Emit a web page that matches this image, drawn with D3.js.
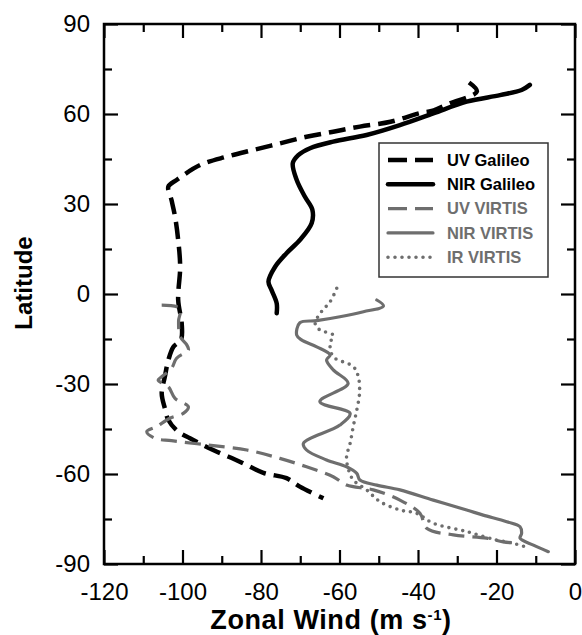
<!DOCTYPE html>
<html>
<head>
<meta charset="utf-8">
<script src="https://cdn.jsdelivr.net/npm/d3@7"></script>
<style>
  body { margin: 0; background: #fff; }
  text { font-family: "Liberation Sans", Arial, sans-serif; }
</style>
</head>
<body>
<div id="chart"></div>
<script>
// Series: latitude (deg) and zonal wind (m/s)
const uvGalileoLat = [70.5, 67.5, 63.5, 61, 60.3, 57.4, 55.8, 54.1, 52.4, 50.2, 48, 45.8, 43, 38, 35.8, 31.3, 25.8, 18, 9.1, -2, -9.8, -15.3, -17.6, -22, -27.6, -33.1, -38.1, -42, -45.9, -48.1, -52, -55.9, -59.6, -61.4, -64.2, -68.1];
const uvGalileoWind = [-27, -25, -32, -36.5, -39.5, -47, -54.8, -61.6, -68.4, -75.2, -82, -88.7, -95.5, -101.5, -103.6, -102.8, -101.9, -101.1, -100.6, -101.1, -100.2, -100.4, -102.3, -103.6, -104.5, -105.3, -104.5, -103.6, -101.1, -98.1, -92.2, -85.4, -79.4, -73.5, -70.1, -64.1];

const nirGalileoLat = [69.7, 68, 66.3, 64.1, 60.2, 56.3, 53, 50.8, 48.6, 46.3, 43.6, 38, 32.4, 28, 23.6, 18, 13.6, 9.1, 4.1, 1.3, -3.1, -6.4];
const nirGalileoWind = [-11.5, -13.6, -19.1, -27.6, -36.1, -44.6, -53.1, -61.6, -67.5, -70.5, -71.9, -70.9, -68.8, -66.9, -67.1, -70.1, -73.5, -76.4, -78.1, -77.3, -76, -76];

const uvVirtisLat = [-3.7, -4.8, -9, -14.2, -17, -18.7, -21.4, -24.8, -27.6, -28.7, -30.9, -34.8, -37.6, -39.8, -41.4, -44.2, -45.9, -48.1, -48.9, -50.3, -52, -54.8, -57.6, -60.9, -63.7, -65.3, -68.7, -73.1, -78.1, -80.3, -81.4, -82.6, -83.1];
const uvVirtisWind = [-105.3, -100.6, -101, -100.6, -98.9, -98.5, -101.5, -102.8, -105.3, -106.2, -103.6, -101.9, -98.5, -99.8, -103.2, -106.6, -109.1, -107, -102.8, -93.8, -83.6, -75.2, -68.4, -61.6, -58.2, -51.4, -44.6, -39.5, -37.8, -31, -22.5, -18.3, -14];

const nirVirtisLat = [-2, -4, -5.9, -7.6, -8.9, -9.6, -13.7, -15.3, -17.6, -20.3, -22, -25.3, -29.8, -35.9, -39.8, -43.7, -49.8, -52, -55.3, -57.6, -59.8, -62, -63.7, -65.3, -68.7, -72, -73.7, -75.9, -77.6, -79.8, -81.4, -83.7, -85.9];
const nirVirtisWind = [-50.5, -48.8, -53.9, -59.9, -65.8, -70.1, -70.9, -69.7, -65.8, -62.4, -63.3, -61.6, -57.8, -65, -57.3, -59.9, -69.2, -68.4, -63.3, -58.2, -55.6, -54.8, -50.5, -44.6, -36.1, -27.6, -23.4, -17.4, -14, -13.6, -14, -10.6, -6.8];

const irVirtisLat = [1.9, -2.6, -5.9, -9.8, -12, -13.7, -16.4, -20.9, -24.2, -27.6, -33.1, -38.7, -44.2, -49.8, -54.2, -58.1, -62, -65.3, -69.2, -72, -73.1, -76.4, -79.2, -82, -83.1, -84.8];
const irVirtisWind = [-60.7, -62.4, -64.6, -66.2, -65, -61.6, -62.4, -61.6, -56.5, -55.2, -54.9, -55.6, -56.5, -57.3, -58.2, -57.8, -56.5, -53.1, -49.7, -44.6, -40.4, -36.1, -27.6, -20, -15.7, -11.5];

const legendNames = ["UV Galileo", "NIR Galileo", "UV VIRTIS", "NIR VIRTIS", "IR VIRTIS"];

const xMajor = [-120, -100, -80, -60, -40, -20, 0];
const xMinor = [-110, -90, -70, -50, -30, -10];
const yMajor = [-90, -60, -30, 0, 30, 60, 90];
const yMinor = [-75, -45, -15, 15, 45, 75];

const width = 582;
const height = 635;
const margin = { top: 24, right: 7, bottom: 71, left: 104 };
const gray = "#6e6e6e";
const fmt = d => String(d); // plain hyphen minus, like the original

const svg = d3.select("#chart").append("svg")
    .attr("width", width)
    .attr("height", height);

const x = d3.scaleLinear().domain([-120, 0]).range([margin.left, width - margin.right]);
const y = d3.scaleLinear().domain([-90, 90]).range([height - margin.bottom, margin.top]);

// Inward ticks on all four sides
const bottomY = y(-90), topY = y(90), leftX = x(-120), rightX = x(0);

svg.append("g")
    .attr("transform", `translate(0,${bottomY})`)
    .call(d3.axisBottom(x).tickValues(xMajor).tickSize(-14).tickPadding(19).tickFormat(fmt))
    .call(g => g.select(".domain").remove())
    .call(g => g.selectAll("text").attr("font-size", 24).attr("fill", "#000"));
svg.append("g")
    .attr("transform", `translate(0,${bottomY})`)
    .call(d3.axisBottom(x).tickValues(xMinor).tickSize(-8).tickFormat(""))
    .call(g => g.select(".domain").remove());
svg.append("g")
    .attr("transform", `translate(0,${topY})`)
    .call(d3.axisTop(x).tickValues(xMajor).tickSize(-14).tickFormat(""))
    .call(g => g.select(".domain").remove());
svg.append("g")
    .attr("transform", `translate(0,${topY})`)
    .call(d3.axisTop(x).tickValues(xMinor).tickSize(-8).tickFormat(""))
    .call(g => g.select(".domain").remove());

svg.append("g")
    .attr("transform", `translate(${leftX},0)`)
    .call(d3.axisLeft(y).tickValues(yMajor).tickSize(-14).tickPadding(14).tickFormat(fmt))
    .call(g => g.select(".domain").remove())
    .call(g => g.selectAll("text").attr("font-size", 24).attr("fill", "#000"));
svg.append("g")
    .attr("transform", `translate(${leftX},0)`)
    .call(d3.axisLeft(y).tickValues(yMinor).tickSize(-8).tickFormat(""))
    .call(g => g.select(".domain").remove());
svg.append("g")
    .attr("transform", `translate(${rightX},0)`)
    .call(d3.axisRight(y).tickValues(yMajor).tickSize(-14).tickFormat(""))
    .call(g => g.select(".domain").remove());
svg.append("g")
    .attr("transform", `translate(${rightX},0)`)
    .call(d3.axisRight(y).tickValues(yMinor).tickSize(-8).tickFormat(""))
    .call(g => g.select(".domain").remove());

svg.selectAll(".tick line").attr("stroke", "#000").attr("stroke-width", 2.2);

// Frame
svg.append("rect")
    .attr("x", leftX).attr("y", topY)
    .attr("width", rightX - leftX).attr("height", bottomY - topY)
    .attr("fill", "none").attr("stroke", "#000").attr("stroke-width", 2.5);

// Axis titles
const xTitle = svg.append("text")
    .attr("x", 331).attr("y", 629)
    .attr("text-anchor", "middle")
    .attr("font-size", 27).attr("font-weight", "bold")
    .attr("letter-spacing", 0.6);
xTitle.append("tspan").text("Zonal Wind (m s");
xTitle.append("tspan").attr("font-size", 15).attr("dy", -9).text("-1");
xTitle.append("tspan").attr("dy", 9).text(")");

svg.append("text")
    .attr("transform", "translate(32,283) rotate(-90)")
    .attr("text-anchor", "middle")
    .attr("font-size", 24).attr("font-weight", "bold")
    .text("Latitude");

// Series
const series = [
  { lat: uvGalileoLat, wind: uvGalileoWind, color: "#000", w: 4.5, dash: "17,8", cap: "butt" },
  { lat: nirGalileoLat, wind: nirGalileoWind, color: "#000", w: 4.5, dash: null, cap: "round" },
  { lat: uvVirtisLat, wind: uvVirtisWind, color: gray, w: 3.2, dash: "16,8", cap: "butt" },
  { lat: nirVirtisLat, wind: nirVirtisWind, color: gray, w: 3.2, dash: null, cap: "round" },
  { lat: irVirtisLat, wind: irVirtisWind, color: gray, w: 3.6, dash: "0,7", cap: "round" }
];

const line = d3.line()
    .x(d => x(d[1]))
    .y(d => y(d[0]))
    .curve(d3.curveCatmullRom.alpha(0.5));

series.forEach(s => {
  const pts = s.lat.map((v, i) => [v, s.wind[i]]);
  svg.append("path")
      .datum(pts)
      .attr("d", line)
      .attr("fill", "none")
      .attr("stroke", s.color)
      .attr("stroke-width", s.w)
      .attr("stroke-dasharray", s.dash)
      .attr("stroke-linecap", s.cap)
      .attr("stroke-linejoin", "round");
});

// Legend
const legend = svg.append("g");
legend.append("rect")
    .attr("x", 379).attr("y", 143)
    .attr("width", 169).attr("height", 134)
    .attr("fill", "#fff").attr("stroke", "#333").attr("stroke-width", 1.5);

legendNames.forEach((name, i) => {
  const s = series[i];
  const ly = 160 + i * 24.3;
  legend.append("line")
      .attr("x1", 388).attr("x2", 433)
      .attr("y1", ly).attr("y2", ly)
      .attr("stroke", s.color)
      .attr("stroke-width", s.w)
      .attr("stroke-dasharray", s.dash ? (s.dash === "0,7" ? "0,7" : "19,8") : null)
      .attr("stroke-linecap", s.cap);
  legend.append("text")
      .attr("x", 447).attr("y", ly)
      .attr("dy", "0.35em")
      .attr("font-size", 16.5).attr("font-weight", "bold")
      .attr("fill", s.color)
      .text(name);
});
</script>
</body>
</html>
